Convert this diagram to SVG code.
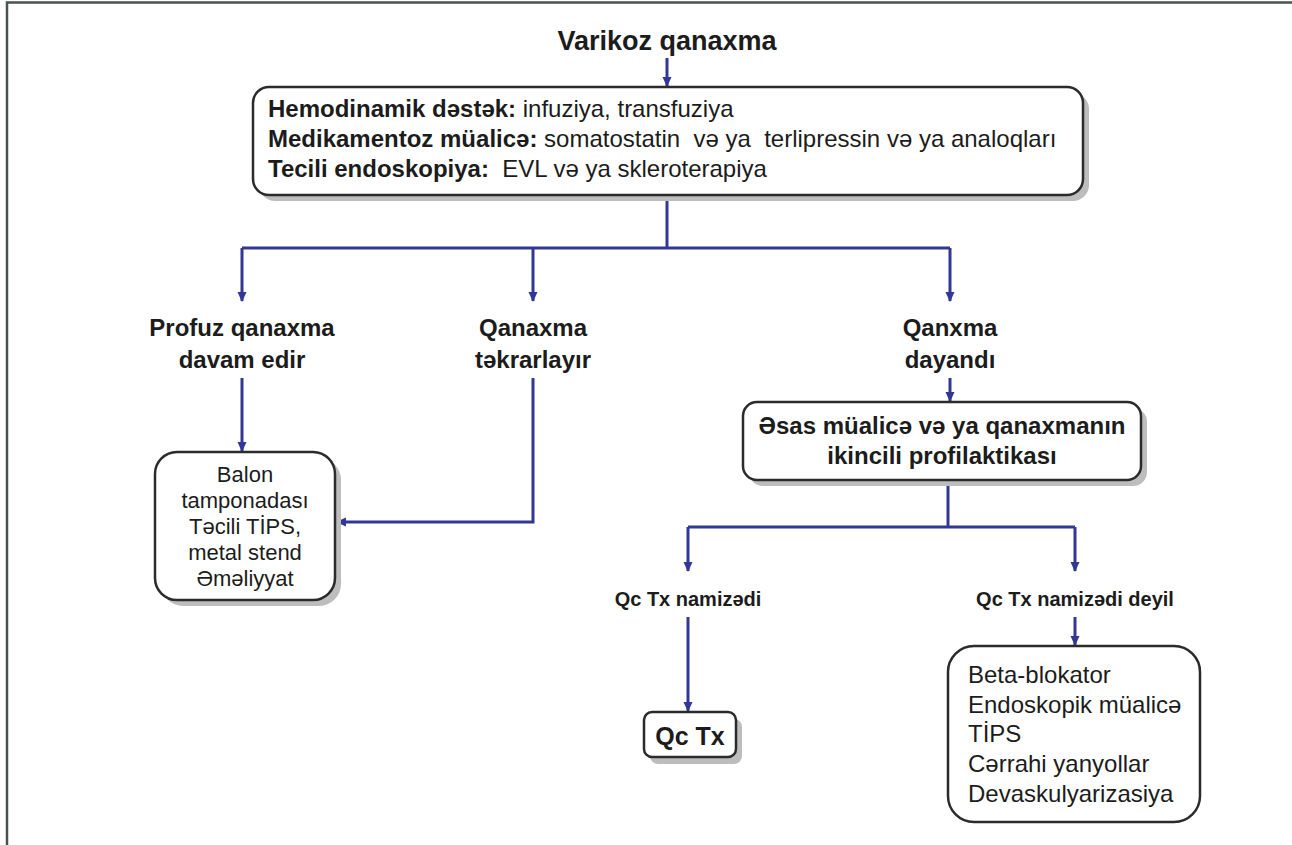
<svg xmlns="http://www.w3.org/2000/svg" width="1292" height="845" viewBox="0 0 1292 845">
<defs>
<marker id="arr" markerWidth="10" markerHeight="10" refX="9" refY="5" orient="auto" markerUnits="userSpaceOnUse"><path d="M0,0.5 L10,5 L0,9.5 z" fill="#323694"/></marker>
<style>
.t{font-family:"Liberation Sans",Arial,sans-serif;fill:#1c1c1c}
.b{font-weight:bold}
.c{text-anchor:middle}
.box{fill:#fff;stroke:#2b2b2b;stroke-width:2.5}
.sh{fill:#bdbdbd}
.ln{fill:none;stroke:#323694;stroke-width:3}
.a{marker-end:url(#arr)}
</style>
</defs>
<rect width="1292" height="845" fill="#fff"/>
<path d="M7,845 V2.5 H1292" fill="none" stroke="#4a5350" stroke-width="2.5"/>

<g id="connectors">
<path class="ln a" d="M667,58 V86"/>
<path class="ln" d="M667,196 V248"/>
<path class="ln" d="M242,248 H950"/>
<path class="ln a" d="M242,248 V301"/>
<path class="ln a" d="M533,248 V301"/>
<path class="ln a" d="M950,248 V301"/>
<path class="ln a" d="M242,378 V451"/>
<path class="ln a" d="M533,378 V522 H337"/>
<path class="ln a" d="M950,378 V401"/>
<path class="ln" d="M948,481 V527"/>
<path class="ln" d="M688,527 H1075"/>
<path class="ln a" d="M688,527 V571"/>
<path class="ln a" d="M1075,527 V571"/>
<path class="ln a" d="M688,617 V711"/>
<path class="ln a" d="M1075,617 V645"/>
</g>

<g id="title">
<text class="t b c" x="667" y="50" font-size="27">Varikoz qanaxma</text>
</g>

<g id="main">
<rect class="sh" x="259" y="93" width="830" height="108" rx="16"/>
<rect class="box" x="253" y="87" width="830" height="108" rx="16"/>
<text class="t" x="268" y="117" font-size="24" xml:space="preserve"><tspan class="b">Hemodinamik dəstək:</tspan> infuziya, transfuziya</text>
<text class="t" x="268" y="147" font-size="24" xml:space="preserve"><tspan class="b">Medikamentoz müalicə:</tspan> somatostatin  və ya  terlipressin və ya analoqları</text>
<text class="t" x="268" y="177" font-size="24" xml:space="preserve"><tspan class="b">Tecili endoskopiya:</tspan>  EVL və ya skleroterapiya</text>
</g>

<g id="profuz">
<text class="t b c" x="242" y="336" font-size="24">Profuz qanaxma</text>
<text class="t b c" x="242" y="368" font-size="24">davam edir</text>
</g>

<g id="tekrar">
<text class="t b c" x="533" y="336" font-size="24">Qanaxma</text>
<text class="t b c" x="533" y="368" font-size="24">təkrarlayır</text>
</g>

<g id="dayandi">
<text class="t b c" x="950" y="336" font-size="24">Qanxma</text>
<text class="t b c" x="950" y="368" font-size="24">dayandı</text>
</g>

<g id="balon">
<rect class="sh" x="161" y="458" width="180" height="148" rx="22"/>
<rect class="box" x="155" y="452" width="180" height="148" rx="22"/>
<text class="t c" x="245" y="482" font-size="22">Balon</text>
<text class="t c" x="245" y="508" font-size="22">tamponadası</text>
<text class="t c" x="245" y="534" font-size="22">Təcili TİPS,</text>
<text class="t c" x="245" y="560" font-size="22">metal stend</text>
<text class="t c" x="245" y="586" font-size="22">Əməliyyat</text>
</g>

<g id="esas">
<rect class="sh" x="749" y="408" width="398" height="78" rx="14"/>
<rect class="box" x="743" y="402" width="398" height="78" rx="14"/>
<text class="t b c" x="942" y="434" font-size="24">Əsas müalicə və ya qanaxmanın</text>
<text class="t b c" x="942" y="464" font-size="24">ikincili profilaktikası</text>
</g>

<g id="namized">
<text class="t b c" x="688" y="606" font-size="20">Qc Tx namizədi</text>
</g>

<g id="namized-deyil">
<text class="t b c" x="1075" y="606" font-size="20">Qc Tx namizədi deyil</text>
</g>

<g id="qctx">
<rect class="sh" x="650" y="719" width="92" height="45" rx="8"/>
<rect class="box" x="644" y="712" width="92" height="45" rx="8"/>
<text class="t b c" x="690" y="745" font-size="25">Qc Tx</text>
</g>

<g id="beta">
<rect class="box" x="948" y="646" width="252" height="176" rx="26"/>
<text class="t" x="968" y="683" font-size="24">Beta-blokator</text>
<text class="t" x="968" y="713" font-size="24">Endoskopik müalicə</text>
<text class="t" x="968" y="742" font-size="24">TİPS</text>
<text class="t" x="968" y="772" font-size="24">Cərrahi yanyollar</text>
<text class="t" x="968" y="802" font-size="24">Devaskulyarizasiya</text>
</g>
</svg>
